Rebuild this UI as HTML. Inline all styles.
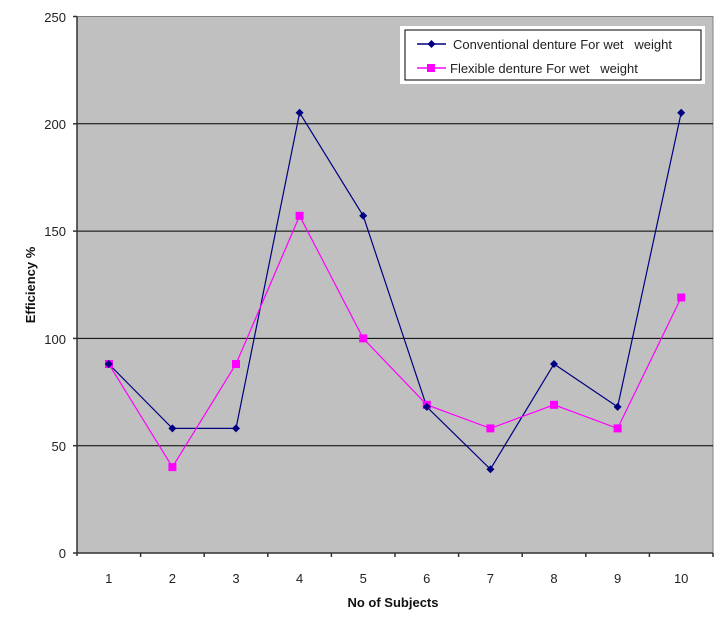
<!DOCTYPE html>
<html><head><style>body{margin:0;background:#fff}svg{display:block}text{white-space:pre}</style></head><body>
<svg width="725" height="622" xmlns="http://www.w3.org/2000/svg" font-family="Liberation Sans, sans-serif">
<rect x="77" y="16.5" width="636" height="536.5" fill="#c0c0c0" stroke="#808080"/>
<g stroke="#000" stroke-width="1">
<line x1="77" y1="445.7" x2="713" y2="445.7"/>
<line x1="77" y1="338.4" x2="713" y2="338.4"/>
<line x1="77" y1="231.1" x2="713" y2="231.1"/>
<line x1="77" y1="123.8" x2="713" y2="123.8"/>
</g>
<g stroke="#333" stroke-width="1.5">
<line x1="77" y1="16.5" x2="77" y2="556"/><line x1="73" y1="553" x2="713" y2="553"/>
<line x1="73" y1="445.7" x2="77" y2="445.7"/><line x1="73" y1="338.4" x2="77" y2="338.4"/><line x1="73" y1="231.1" x2="77" y2="231.1"/><line x1="73" y1="123.8" x2="77" y2="123.8"/><line x1="73" y1="16.5" x2="77" y2="16.5"/>
<line x1="140.6" y1="553" x2="140.6" y2="557"/><line x1="204.2" y1="553" x2="204.2" y2="557"/><line x1="267.8" y1="553" x2="267.8" y2="557"/><line x1="331.4" y1="553" x2="331.4" y2="557"/><line x1="395" y1="553" x2="395" y2="557"/><line x1="458.6" y1="553" x2="458.6" y2="557"/><line x1="522.2" y1="553" x2="522.2" y2="557"/><line x1="585.8" y1="553" x2="585.8" y2="557"/><line x1="649.4" y1="553" x2="649.4" y2="557"/><line x1="713" y1="553" x2="713" y2="557"/>
</g>
<g font-size="13" fill="#222" text-anchor="end">
<text x="66" y="558">0</text><text x="66" y="451">50</text><text x="66" y="344">100</text><text x="66" y="236">150</text><text x="66" y="129">200</text><text x="66" y="22">250</text>
</g>
<g font-size="13" fill="#222" text-anchor="middle">
<text x="108.8" y="583">1</text><text x="172.4" y="583">2</text><text x="236" y="583">3</text><text x="299.6" y="583">4</text><text x="363.2" y="583">5</text><text x="426.8" y="583">6</text><text x="490.4" y="583">7</text><text x="554" y="583">8</text><text x="617.6" y="583">9</text><text x="681.2" y="583">10</text>
</g>
<text x="393" y="607" font-size="13" font-weight="bold" text-anchor="middle" fill="#111">No of Subjects</text>
<text transform="translate(35,285) rotate(-90)" font-size="13" font-weight="bold" text-anchor="middle" fill="#111">Efficiency %</text>
<polyline fill="none" stroke="#000080" stroke-width="1.2" points="108.8,364 172.4,428.4 236,428.4 299.6,112.7 363.2,215.8 426.8,406.9 490.4,469.2 554,364 617.6,406.9 681.2,112.7"/>
<polyline fill="none" stroke="#ff00ff" stroke-width="1.2" points="108.8,364 172.4,467.1 236,364 299.6,215.8 363.2,338.4 426.8,404.8 490.4,428.4 554,404.8 617.6,428.4 681.2,297.5"/>
<g fill="#ff00ff">
<rect x="105" y="360" width="8" height="8"/><rect x="168.4" y="463.1" width="8" height="8"/><rect x="232" y="360" width="8" height="8"/><rect x="295.6" y="211.8" width="8" height="8"/><rect x="359.2" y="334.4" width="8" height="8"/><rect x="422.8" y="400.8" width="8" height="8"/><rect x="486.4" y="424.4" width="8" height="8"/><rect x="550" y="400.8" width="8" height="8"/><rect x="613.6" y="424.4" width="8" height="8"/><rect x="677.2" y="293.5" width="8" height="8"/>
</g>
<g fill="#000080">
<path d="M108.8,360l4,4l-4,4l-4,-4z"/><path d="M172.4,424.4l4,4l-4,4l-4,-4z"/><path d="M236,424.4l4,4l-4,4l-4,-4z"/><path d="M299.6,108.7l4,4l-4,4l-4,-4z"/><path d="M363.2,211.8l4,4l-4,4l-4,-4z"/><path d="M426.8,402.9l4,4l-4,4l-4,-4z"/><path d="M490.4,465.2l4,4l-4,4l-4,-4z"/><path d="M554,360l4,4l-4,4l-4,-4z"/><path d="M617.6,402.9l4,4l-4,4l-4,-4z"/><path d="M681.2,108.7l4,4l-4,4l-4,-4z"/>
</g>
<rect x="400" y="26" width="305" height="58" fill="#fff"/>
<rect x="405" y="30" width="296" height="50" fill="#fff" stroke="#000" stroke-width="1"/>
<line x1="417" y1="44" x2="446" y2="44" stroke="#000080" stroke-width="1.5"/><path d="M431.5,40l4,4l-4,4l-4,-4z" fill="#000080"/>
<line x1="417" y1="68" x2="446" y2="68" stroke="#ff00ff" stroke-width="1.5"/><rect x="427" y="64" width="8" height="8" fill="#ff00ff"/>
<text x="453" y="49" font-size="13" fill="#222" xml:space="preserve">Conventional denture For wet   weight</text>
<text x="450" y="73" font-size="13" fill="#222" xml:space="preserve">Flexible denture For wet   weight</text>
</svg>
</body></html>
